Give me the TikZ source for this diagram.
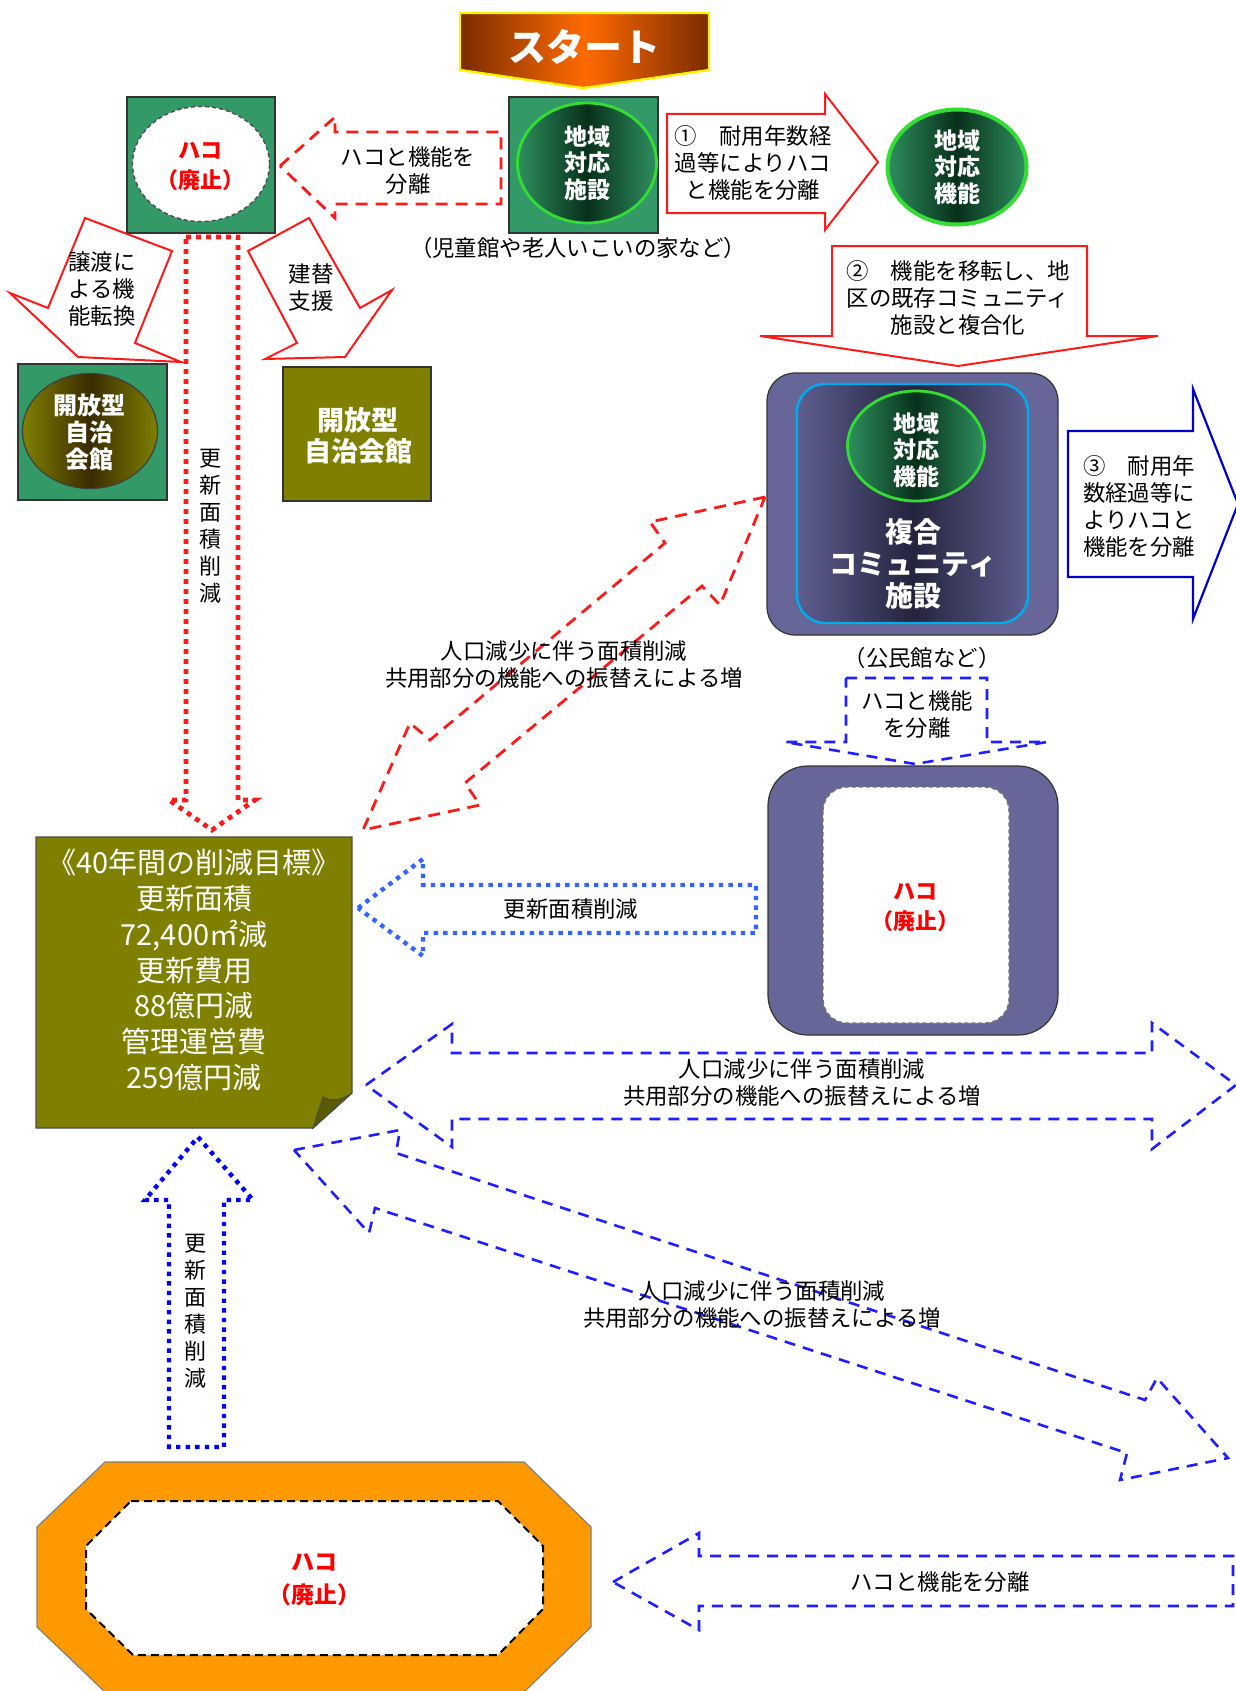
\documentclass[tikz,border=0pt]{standalone}
\usepackage{fontspec}
\setmainfont{Noto Sans CJK JP}
\usetikzlibrary{shapes.geometric}
\definecolor{sea}{HTML}{339966}
\definecolor{olv}{HTML}{808000}
\definecolor{slate}{HTML}{666699}
\definecolor{orng}{HTML}{FF9900}
\definecolor{brn}{HTML}{7A2C00}
\definecolor{org}{HTML}{FF6A00}
\definecolor{gEdge}{HTML}{2F8F5F}
\definecolor{gMid}{HTML}{07301A}
\definecolor{gLine}{HTML}{33DD33}
\definecolor{sEdge}{HTML}{5E5E90}
\definecolor{sMid}{HTML}{24243E}
\definecolor{oMid}{HTML}{3A2C00}
\definecolor{arrRed}{HTML}{FF1A1A}
\definecolor{dBlue}{HTML}{1F1FFF}
\definecolor{lBlue}{HTML}{3366FF}
\definecolor{sBlue}{HTML}{0000CC}
\begin{document}
\begin{tikzpicture}[x=0.5pt,y=-0.5pt,
  txt/.style={font=\fontsize{11.2pt}{13.5pt}\selectfont, align=center, inner sep=0pt, text=black},
  wtxt/.style={font=\bfseries\fontsize{11.5pt}{13.3pt}\selectfont, align=center, inner sep=0pt, text=white},
  redtxt/.style={font=\bfseries\fontsize{11pt}{15pt}\selectfont, align=center, inner sep=0pt, text=red},
  vtxt/.style={font=\fontsize{11pt}{13.5pt}\selectfont, align=center, inner sep=0pt, text=black},
  solidred/.style={draw=arrRed, line width=1pt, fill=white, line join=miter},
  solidblue/.style={draw=sBlue, line width=1.1pt, fill=white, line join=miter},
  dashred/.style={draw=arrRed, line width=1.4pt, dash pattern=on 6pt off 4pt},
  dotred/.style={draw=arrRed, line width=2.4pt, dash pattern=on 2.4pt off 2.6pt},
  dashblue/.style={draw=dBlue, line width=1.3pt, dash pattern=on 5.5pt off 4pt},
  dotlblue/.style={draw=lBlue, line width=2.2pt, dash pattern=on 2.2pt off 2.6pt},
  dotblue/.style={draw=blue, line width=2.2pt, dash pattern=on 2.2pt off 2.6pt},
  greenell/.style={ellipse, inner sep=0pt, draw=gLine, line width=1.4pt, left color=gEdge, right color=gEdge, middle color=gMid},
  sq/.style={rectangle, inner sep=0pt, draw=black!80, line width=0.6pt}
]
\clip (0,0) rectangle (1236,1691);
\fill[white] (0,0) rectangle (1236,1691);

% ---------- Start banner
\path[draw=yellow, line width=1.2pt, left color=brn, right color=brn, middle color=org]
  (460,13) -- (709,13) -- (709,70) -- (583,88) -- (460,70) -- cycle;
\node[font=\bfseries\fontsize{19pt}{19pt}\selectfont, text=white, inner sep=0pt] (start) at (584,47) {スタート};

% ---------- top-left: haco (abolished)
\node[sq, fill=sea, minimum width=74pt, minimum height=68pt] (sqA) at (201,165) {};
\node[ellipse, inner sep=0pt, fill=white, draw=black!70, line width=0.7pt, dash pattern=on 2pt off 1.5pt,
      minimum width=68.5pt, minimum height=57.5pt] (hakoA) at (201,164) {};
\node[redtxt] (hakoAt) at (200,167) {ハコ\\（廃止）};

% ---------- top-center facility
\node[sq, fill=sea, minimum width=74.5pt, minimum height=68pt] (sqB) at (583.5,165) {};
\node[greenell, minimum width=69.5pt, minimum height=60pt] (facB) at (587,163) {};
\node[wtxt] (facBt) at (587,163) {地域\\対応\\施設};
\node[txt] (note1) at (578,248) {（児童館や老人いこいの家など）};

% ---------- red dashed arrow left: separate
\path[dashred] (280,166) -- (335,117) -- (335,132) -- (501,132) -- (501,204) -- (335,204) -- (335,218) -- cycle;
\node[txt] (sepA) at (408,171) {ハコと機能を\\分離};

% ---------- arrow 1
\path[solidred] (667,114) -- (825,114) -- (825,94) -- (878,162) -- (825,230) -- (825,213) -- (667,213) -- cycle;
\node[txt] (step1) at (753,163) {①　耐用年数経\\過等によりハコ\\と機能を分離};

% ---------- top-right function ellipse
\node[greenell, line width=2pt, minimum width=69.5pt, minimum height=57.5pt] (funcC) at (957,167) {};
\node[wtxt] (funcCt) at (957,167) {地域\\対応\\機能};

% ---------- arrow 2
\path[solidred] (832,246) -- (1087,246) -- (1087,336) -- (1158,336) -- (958,366) -- (760,336) -- (832,336) -- cycle;
\node[txt] (step2) at (958,298) {②　機能を移転し、地\\区の既存コミュニティ\\施設と複合化};

% ---------- composite community facility
\path[draw=black!80, line width=0.6pt, fill=slate, rounded corners=14pt] (767,373) rectangle (1058,635);
\path[draw=cyan, line width=1.2pt, left color=sEdge, right color=sEdge, middle color=sMid, rounded corners=14pt] (797,384) rectangle (1028,623);
\node[greenell, minimum width=68.5pt, minimum height=55pt] (funcD) at (916,446) {};
\node[wtxt] (funcDt) at (916,450) {地域\\対応\\機能};
\node[font=\bfseries\fontsize{14pt}{16pt}\selectfont, text=white, align=center, inner sep=0pt] (compT) at (913,564) {複合\\コミュニティ\\施設};
\node[txt] (note2) at (922,658) {（公民館など）};

% ---------- arrow 3
\path[solidblue] (1068,431) -- (1193,431) -- (1193,389) -- (1238,504) -- (1193,619) -- (1193,577) -- (1068,577) -- cycle;
\node[txt] (step3) at (1139,506) {③　耐用年\\数経過等に\\よりハコと\\機能を分離};

% ---------- blue dashed down arrow
\path[dashblue] (846,678) -- (987,678) -- (987,742) -- (1047,742) -- (915,764) -- (785,742) -- (846,742) -- cycle;
\node[txt] (sepB) at (917,715) {ハコと機能\\を分離};

% ---------- second slate box (abolished)
\path[draw=black!80, line width=0.6pt, fill=slate, rounded corners=20pt] (768,766) rectangle (1058,1035);
\path[draw=black!55, line width=0.7pt, dash pattern=on 2pt off 1.5pt, fill=white, rounded corners=12pt] (823,787) rectangle (1009,1023);
\node[redtxt] (hakoB) at (915,908) {ハコ\\（廃止）};

% ---------- left arrows from haco
\path[solidred] (85,218) -- (172,251) -- (135,343) -- (181,362) -- (78,357) -- (10,293) -- (48,308) -- cycle;
\node[txt] (trans) at (102,289) {譲渡に\\よる機\\能転換};
\path[solidred] (248,251) -- (309,218) -- (360,308) -- (392,290) -- (345,357) -- (265,359) -- (297,343) -- cycle;
\node[txt] (rebuild) at (311,288) {建替\\支援};

% open-type halls
\node[sq, fill=sea, minimum width=74.5pt, minimum height=68pt] (sqE) at (92.5,432) {};
\node[ellipse, inner sep=0pt, draw=black!75, line width=0.6pt, left color=olv, right color=olv, middle color=oMid,
      minimum width=67.5pt, minimum height=57.5pt] (hallE) at (90,431) {};
\node[font=\bfseries\fontsize{12pt}{13.5pt}\selectfont, text=white, align=center, inner sep=0pt] (hallEt) at (89,432) {開放型\\自治\\会館};
\node[sq, fill=olv, minimum width=74pt, minimum height=67pt] (hallF) at (357,434) {};
\node[font=\bfseries\fontsize{13.5pt}{15.5pt}\selectfont, text=white, align=center, inner sep=0pt] (hallFt) at (358,436) {開放型\\自治会館};

% ---------- red dotted down arrow
\path[dotred] (186,237) -- (238,237) -- (238,800) -- (255,800) -- (212,830) -- (169,800) -- (186,800) -- cycle;
\node[vtxt] (vred) at (210,526) {更\\新\\面\\積\\削\\減};

% ---------- red dashed diagonal double arrow
\path[dashred] (765,497) -- (650,522) -- (665,543) -- (430,740) -- (410,723) -- (363,830) -- (480,805) -- (465,783) -- (702,586) -- (720,605) -- cycle;
\node[txt] (diagR) at (564,665) {人口減少に伴う面積削減\\共用部分の機能への振替えによる増};

% ---------- target note
\path[draw=black!70, line width=0.6pt, fill=olv] (36,837) -- (352,837) -- (352,1093) -- (313,1128) -- (36,1128) -- cycle;
\path[draw=black!70, line width=0.5pt, fill=olv!70!black] (313,1128) -- (323,1097) .. controls (332,1102) and (342,1100) .. (352,1093) -- cycle;
\node[font=\fontsize{14.5pt}{17.85pt}\selectfont, text=white, align=center, inner sep=0pt] (target) at (194,970)
  {《40年間の削減目標》\\更新面積\\72,400㎡減\\更新費用\\88億円減\\管理運営費\\259億円減};

% ---------- blue dotted left arrow
\path[dotlblue] (358,908) -- (423,859) -- (423,885) -- (756,885) -- (756,933) -- (423,933) -- (423,956) -- cycle;
\node[txt] (redH) at (571,909) {更新面積削減};

% ---------- blue dashed horizontal double arrow
\path[dashblue] (366,1085) -- (452,1024) -- (452,1053) -- (1152,1053) -- (1152,1023) -- (1236,1085) -- (1152,1149) -- (1152,1119) -- (452,1119) -- (452,1147) -- cycle;
\node[txt] (diagH) at (802,1083) {人口減少に伴う面積削減\\共用部分の機能への振替えによる増};

% ---------- blue dashed diagonal double arrow
\path[dashblue] (294,1150) -- (400,1130) -- (396,1153) -- (1145,1400) -- (1157,1378) -- (1228,1458) -- (1120,1480) -- (1127,1453) -- (375,1208) -- (369,1233) -- cycle;
\node[txt] (diagB) at (762,1305) {人口減少に伴う面積削減\\共用部分の機能への振替えによる増};

% ---------- blue dotted up arrow
\path[dotblue] (198,1137) -- (253,1200) -- (224,1200) -- (224,1447) -- (169,1447) -- (169,1200) -- (145,1200) -- cycle;
\node[vtxt] (vblue) at (195,1311) {更\\新\\面\\積\\削\\減};

% ---------- orange octagon
\path[draw=black!50, line width=0.6pt, fill=orng] (105,1462) -- (524,1462) -- (591,1527) -- (591,1627) -- (524,1692) -- (105,1692) -- (37,1627) -- (37,1527) -- cycle;
\path[draw=black, line width=1pt, dash pattern=on 4pt off 2.5pt, fill=white] (131,1501) -- (498,1501) -- (543,1546) -- (543,1609) -- (498,1655) -- (133,1655) -- (86,1609) -- (86,1546) -- cycle;
\node[font=\bfseries\fontsize{11.5pt}{16.5pt}\selectfont, text=red, align=center, inner sep=0pt] (hakoC) at (314,1580) {ハコ\\（廃止）};

% ---------- blue dashed left arrow bottom
\path[dashblue] (613,1582) -- (699,1533) -- (699,1556) -- (1233,1556) -- (1233,1606) -- (699,1606) -- (699,1630) -- cycle;
\node[txt] (sepC) at (940,1582) {ハコと機能を分離};
\end{tikzpicture}
\end{document}
